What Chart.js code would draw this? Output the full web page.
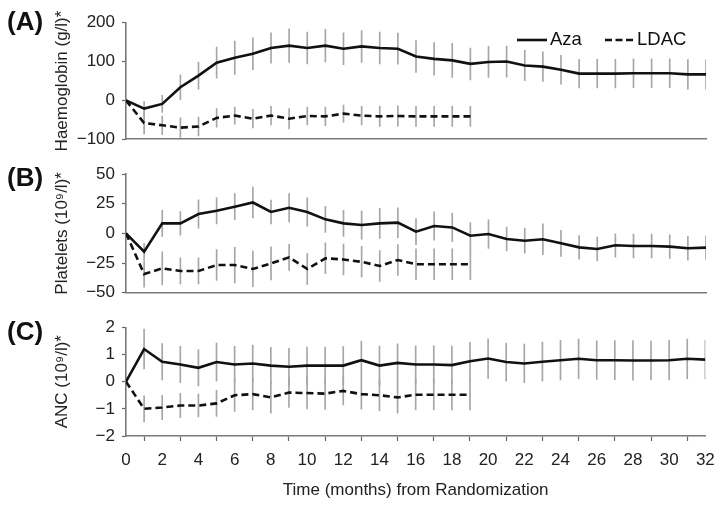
<!DOCTYPE html>
<html><head><meta charset="utf-8">
<script src="https://cdn.jsdelivr.net/npm/chart.js@4.4.1/dist/chart.umd.min.js"></script>
<style>
html,body{margin:0;padding:0;background:#fff;}
#wrap{position:relative;width:724px;height:508px;overflow:hidden;background:#fff;}
.pane{position:absolute;left:0;width:724px;}
canvas{display:block;}
</style></head><body>
<div id="wrap">
<div class="pane" style="top:0;height:160px"><canvas id="cA" width="724" height="160"></canvas></div>
<div class="pane" style="top:150px;height:160px"><canvas id="cB" width="724" height="160"></canvas></div>
<div class="pane" style="top:310px;height:198px"><canvas id="cC" width="724" height="198"></canvas></div>
</div>
<script>
// ---- data ----
const months = [0,1,2,3,4,5,6,7,8,9,10,11,12,13,14,15,16,17,18,19,20,21,22,23,24,25,26,27,28,29,30,31,32];
const xTicks = [0,2,4,6,8,10,12,14,16,18,20,22,24,26,28,30,32];

const azaHb    = [0,-21,-9,34,64,97,110,120,135,141,135,141,133,139,135,133,113,107,103,94,99,100,90,87,79,69,69,69,70,70,70,67,67];
const azaHbErr = [0,18,22,32,35,40,43,41,39,43,41,42,41,41,41,40,41,42,44,41,40,40,39,38,37,37,37,37,37,37,37,38,38];
const ldacHb    = [0,-58,-64,-70,-67,-45,-39,-47,-39,-47,-40,-41,-34,-39,-41,-40,-41,-41,-41,-41];
const ldacHbErr = [0,28,24,25,24,24,22,24,24,26,23,24,22,24,26,26,26,26,26,26];

const azaPlt    = [0,-15.5,8.4,8.4,16.3,19,22.5,26,18,21.6,18,11.8,8.4,7,8.4,9,1.4,6.2,5,-2,-0.6,-4.8,-6.2,-5,-8.4,-11.8,-13.2,-10,-10.7,-10.7,-11.2,-12.6,-12];
const azaPltErr = [0,7,11,10,12,11,11,13,10,12,12,11,11,12,12.6,12.6,11,12,12,11,12,10,10.5,13,11,10,10,10,10,10,10,10,10];
const ldacPlt    = [0,-34.3,-29.5,-31.7,-31.7,-26.7,-26.7,-30,-25.3,-20.2,-30,-21,-22,-24,-27.5,-22.5,-26,-26,-26,-26];
const ldacPltErr = [0,11,14,11,11,13,15,15,14,11,13,13,13,13,13,13,13,13,13,13];

const azaAnc    = [0,1.2,0.73,0.63,0.51,0.72,0.63,0.67,0.59,0.55,0.59,0.59,0.59,0.79,0.59,0.69,0.63,0.63,0.61,0.75,0.85,0.72,0.67,0.73,0.79,0.84,0.79,0.79,0.78,0.78,0.79,0.84,0.81];
const azaAncErr = [0,0.73,0.67,0.67,0.67,0.7,0.67,0.68,0.67,0.68,0.68,0.68,0.7,0.7,0.72,0.7,0.69,0.69,0.7,0.7,0.73,0.7,0.71,0.73,0.73,0.73,0.71,0.72,0.73,0.71,0.73,0.73,0.71];
const ldacAnc    = [0,-1.0,-0.95,-0.88,-0.88,-0.8,-0.5,-0.46,-0.58,-0.4,-0.42,-0.44,-0.34,-0.46,-0.5,-0.58,-0.48,-0.48,-0.48,-0.48];
const ldacAncErr = [0,0.48,0.45,0.45,0.42,0.48,0.6,0.58,0.58,0.55,0.58,0.58,0.52,0.55,0.57,0.58,0.56,0.56,0.56,0.56];

const hbTicks  = [-100,0,100,200];
const pltTicks = [-50,-25,0,25,50];
const ancTicks = [-2,-1,0,1,2];

const seriesNames = ['Aza','LDAC'];
const panelLabels = ['(A)','(B)','(C)'];
const yTitles = ['Haemoglobin (g/l)*','Platelets (10\u2079/l)*','ANC (10\u2079/l)*'];
const xTitle = 'Time (months) from Randomization';

// ---- helpers ----
const FONT = '"Liberation Sans", Arial, Helvetica, sans-serif';
Chart.defaults.font.family = FONT;
Chart.defaults.color = '#222';

function pts(vals){ return vals.map((v,i)=>({x:months[i], y:v})); }
function bars(vals, errs){
  const out = [];
  vals.forEach((v,i)=>{ if (errs[i] > 0) out.push({x:months[i], y:[v-errs[i], v+errs[i]]}); });
  return out;
}
const fmt = v => String(v).replace('-', '\u2212');

const overlay = {
  id:'overlay',
  afterDraw(chart, args, opts){
    const ctx = chart.ctx;
    ctx.save();
    (opts.items||[]).forEach(it=>{
      if (it.kind === 'text'){
        ctx.font = it.font; ctx.fillStyle = '#111';
        ctx.textAlign = it.align||'left'; ctx.textBaseline = 'middle';
        ctx.fillText(it.text, it.x, it.y);
      } else {
        ctx.strokeStyle = '#111'; ctx.lineWidth = 2.6;
        ctx.setLineDash(it.dash||[]);
        ctx.beginPath(); ctx.moveTo(it.x1, it.y); ctx.lineTo(it.x2, it.y); ctx.stroke();
        ctx.setLineDash([]);
      }
    });
    ctx.restore();
  }
};

function makeChart(id, o){
  const yt = o.yTicks;
  new Chart(document.getElementById(id), {
    type:'line',
    data:{ datasets:[
      {type:'line', label:seriesNames[0], data:pts(o.aza), borderColor:'#111', borderWidth:2.6, pointRadius:0, tension:0, fill:false, order:0},
      {type:'line', label:seriesNames[1], data:pts(o.ldac), borderColor:'#111', borderWidth:2.6, borderDash:[7,4], pointRadius:0, tension:0, fill:false, order:0},
      {type:'bar', label:'azaErr', data:bars(o.aza,o.azaErr), backgroundColor:'#a6a6a6', borderWidth:0, barThickness:1, grouped:false, order:1},
      {type:'bar', label:'ldacErr', data:bars(o.ldac,o.ldacErr), backgroundColor:'#a6a6a6', borderWidth:0, barThickness:1, grouped:false, order:1}
    ]},
    options:{
      responsive:false, animation:false, devicePixelRatio:1,
      layout:{padding:o.pad},
      plugins:{legend:{display:false}, tooltip:{enabled:false}, overlay:{items:o.items}},
      scales:{
        x:{type:'linear', min:0, max:32, offset:false, position:'bottom',
           afterBuildTicks(s){ s.ticks = xTicks.map(v=>({value:v})); },
           ticks:{display:o.showX, autoSkip:false, maxRotation:0, padding:9.2, font:{size:17}, color:'#222'},
           grid:{display:true, drawOnChartArea:false, drawTicks:o.showX, tickLength:5, color:'#666', tickWidth:1.2},
           border:{display:true, color:'#7a7a7a', width:1.6},
           title:{display:o.showX, text:xTitle, font:{size:17}, color:'#222', padding:{top:0,bottom:4}}
        },
        y:{type:'linear', min:yt[0], max:yt[yt.length-1],
           afterBuildTicks(s){ s.ticks = yt.map(v=>({value:v})); },
           ticks:{padding:7, font:{size:17}, color:'#222', callback:fmt},
           grid:{display:true, drawOnChartArea:false, drawTicks:true, tickLength:4, color:'#666', tickWidth:1.2},
           border:{display:true, color:'#7a7a7a', width:1.6},
           title:{display:true, text:o.yTitle, font:{size:17}, color:'#222', padding:{top:52,bottom:0}},
           afterFit(s){ s.width = 126; }
        }
      }
    },
    plugins:[overlay]
  });
}

const labelFont = 'bold 26px ' + FONT;
const legFont = '18.5px ' + FONT;

makeChart('cA', {aza:azaHb, azaErr:azaHbErr, ldac:ldacHb, ldacErr:ldacHbErr, yTicks:hbTicks, yTitle:yTitles[0], showX:false,
  pad:{top:22.7, bottom:20.7, left:0, right:18},
  items:[
    {kind:'text', text:panelLabels[0], x:7, y:22.5, font:labelFont},
    {kind:'line', x1:517, x2:547, y:40},
    {kind:'text', text:seriesNames[0], x:550, y:40, font:legFont},
    {kind:'line', x1:605, x2:633, y:40, dash:[7,3.5]},
    {kind:'text', text:seriesNames[1], x:637, y:40, font:legFont}
  ]});
makeChart('cB', {aza:azaPlt, azaErr:azaPltErr, ldac:ldacPlt, ldacErr:ldacPltErr, yTicks:pltTicks, yTitle:yTitles[1], showX:false,
  pad:{top:24, bottom:17.3, left:0, right:18},
  items:[{kind:'text', text:panelLabels[1], x:7, y:29, font:labelFont}]});
makeChart('cC', {aza:azaAnc, azaErr:azaAncErr, ldac:ldacAnc, ldacErr:ldacAncErr, yTicks:ancTicks, yTitle:yTitles[2], showX:true,
  pad:{top:17.3, bottom:3.8, left:0, right:18},
  items:[{kind:'text', text:panelLabels[2], x:7, y:22.5, font:labelFont}]});
</script>
</body></html>
